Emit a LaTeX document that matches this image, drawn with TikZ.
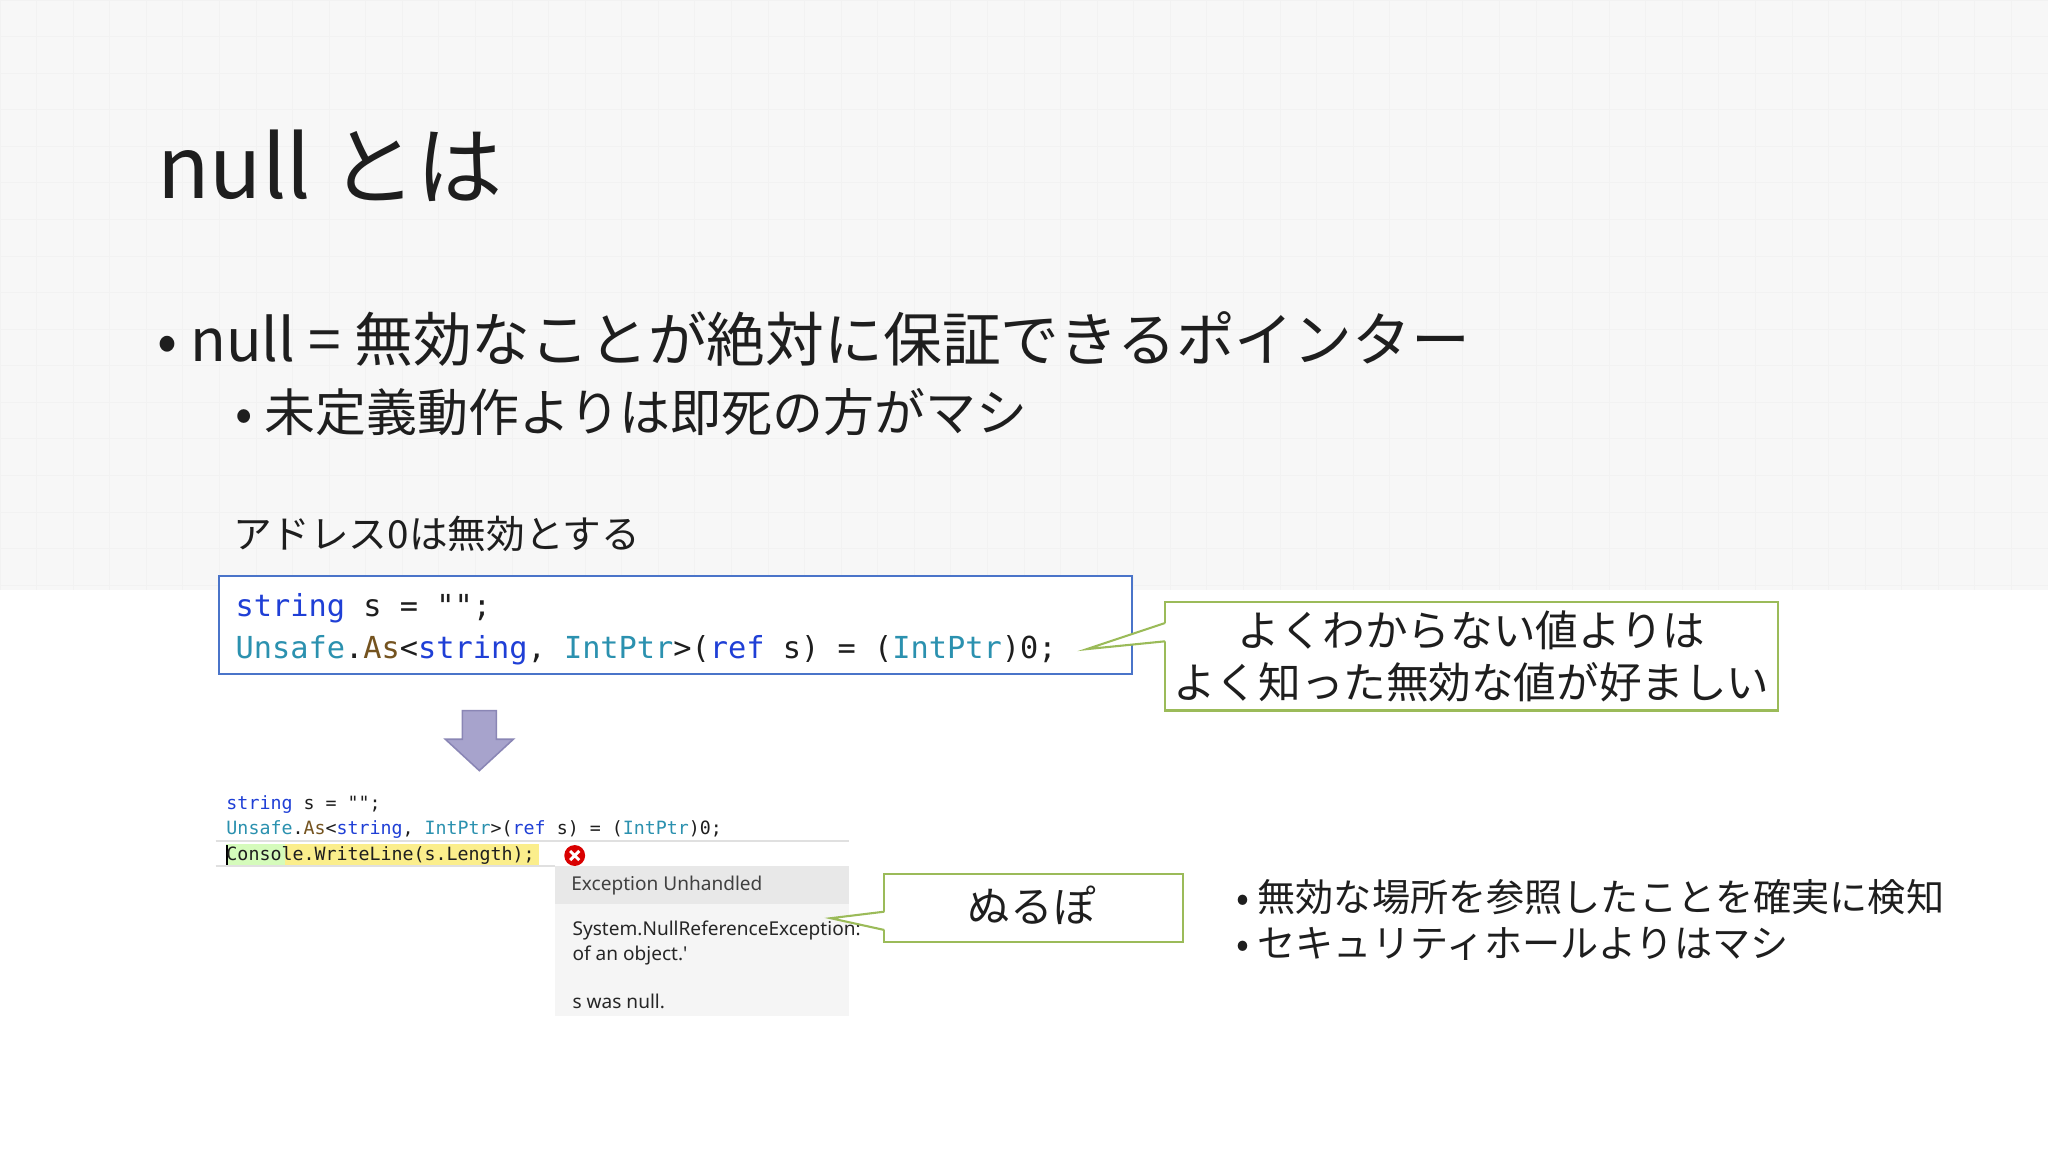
\documentclass[tikz,border=0pt]{standalone}
\usepackage{fontspec}
\usetikzlibrary{calc}
\setmainfont{Noto Sans CJK JP}
\newfontfamily\codefont{DejaVu Sans Mono}
\newfontfamily\uifont{Noto Sans}
\definecolor{kw}{HTML}{1F3FD6}
\definecolor{ty}{HTML}{2B91AF}
\definecolor{me}{HTML}{74531F}
\definecolor{txt}{HTML}{1E1E1E}
\definecolor{codebox}{HTML}{4A74C9}
\definecolor{callg}{HTML}{9BBB59}
\definecolor{arr}{HTML}{A7A3CC}
\definecolor{arrd}{HTML}{8A86B5}
\definecolor{hl}{HTML}{FBEE8C}
\tikzset{
  x=0.5pt,y=-0.5pt,
  txtnode/.style={inner sep=0pt,anchor=base west,text=txt},
  callbox/.style={draw=callg,line width=0.8pt,fill=white,minimum width=0,inner sep=0pt},
}
\newcommand{\kw}[1]{\textcolor{kw}{#1}}
\newcommand{\ty}[1]{\textcolor{ty}{#1}}
\newcommand{\me}[1]{\textcolor{me}{#1}}
\begin{document}
\begin{tikzpicture}
\useasboundingbox (0,0) rectangle (1568,882);
\fill[white] (0,0) rectangle (1568,882);
\fill[black!3] (0,0) rectangle (1568,452);
\foreach \i in {0,28,...,1568} \draw[black!5,line width=0.3pt] (\i,0) -- (\i,452);
\foreach \j in {0,28,...,448} \draw[black!5,line width=0.3pt] (0,\j) -- (1568,\j);

\node[txtnode,font=\fontsize{33}{40}\selectfont] (title) at (120,152) {null とは};
\node[txtnode,font=\fontsize{22.5}{27}\selectfont] (b1) at (120,277) {• null = 無効なことが絶対に保証できるポインター};
\node[txtnode,font=\fontsize{19.5}{24}\selectfont] (b2) at (180,330) {• 未定義動作よりは即死の方がマシ};
\node[txtnode,font=\fontsize{14.8}{18}\selectfont] (cap) at (178,420) {アドレス0は無効とする};

% code box
\draw[codebox,line width=0.8pt,fill=white] (168,441) rectangle (867,516);
\node[txtnode,font=\codefont\fontsize{11.6}{14}\selectfont] (c1) at (180,472) {\kw{string} s = "";};
\node[txtnode,font=\codefont\fontsize{11.6}{14}\selectfont] (c2) at (180,504) {\ty{Unsafe}.\me{As}<\kw{string}, \ty{IntPtr}>(\kw{ref} s) = (\ty{IntPtr})0;};

% callout 1
\node[callbox,minimum width=234.5pt,minimum height=41.5pt] (call1) at (1126.5,502.5) {};
\coordinate (t1) at (832,497);
\fill[white] (893,477) -- (t1) -- (893,491) -- cycle;
\draw[callg,line width=0.8pt] (892,477) -- (t1) -- (892,491);
\node[font=\fontsize{16.3}{20}\selectfont,text=txt,align=center,inner sep=0pt] (call1t) at (call1) {よくわからない値よりは\\よく知った無効な値が好ましい};

% down arrow
\draw[arrd,fill=arr,line width=0.6pt] (354,544) -- (380,544) -- (380,566) -- (393,566) -- (367,590) -- (341,566) -- (354,566) -- cycle;

% screenshot
\fill[hl] (218,646) rectangle (413,663);
\fill[hl!60!green!40!white] (173,646) rectangle (218,663);
\draw[black!12,line width=0.6pt] (165,644) -- (650,644);
\draw[black!12,line width=0.6pt] (165,663) -- (425,663);
\draw[black,line width=0.6pt] (174,647) -- (174,662);
\node[txtnode,font=\codefont\fontsize{7}{8}\selectfont] (s1) at (173,620) {\kw{string} s = "";};
\node[txtnode,font=\codefont\fontsize{7}{8}\selectfont] (s2) at (173,639) {\ty{Unsafe}.\me{As}<\kw{string}, \ty{IntPtr}>(\kw{ref} s) = (\ty{IntPtr})0;};
\node[txtnode,font=\codefont\fontsize{7}{8}\selectfont] (s3) at (173,659) {Console.WriteLine(s.Length);};
\node[circle,fill=red!85!black,minimum size=8pt,inner sep=0pt] (err) at (440,655) {};
\draw[white,line width=1.1pt] ($(err)+(-3.5,-3.5)$) -- ($(err)+(3.5,3.5)$) ($(err)+(-3.5,3.5)$) -- ($(err)+(3.5,-3.5)$);
\fill[black!4] (425,663) rectangle (650,778);
\fill[black!9] (425,663) rectangle (650,692);
\node[txtnode,font=\uifont\fontsize{7.3}{9}\selectfont,text=black!75] (p1) at (437,682) {Exception Unhandled};
\node[txtnode,font=\uifont\fontsize{7.3}{9}\selectfont,text=black!85] (p2) at (438,716) {System.NullReferenceException:};
\node[txtnode,font=\uifont\fontsize{7.3}{9}\selectfont,text=black!85] (p3) at (438,735) {of an object.'};
\node[txtnode,font=\uifont\fontsize{7.3}{9}\selectfont,text=black!85] (p4) at (438,772) {s was null.};

% callout 2
\node[callbox,minimum width=114.5pt,minimum height=26pt] (call2) at (791.5,695) {};
\coordinate (t2) at (636,703);
\fill[white] (678,698) -- (t2) -- (678,712) -- cycle;
\draw[callg,line width=0.8pt] (677,698) -- (t2) -- (677,712);
\node[font=\fontsize{16.3}{20}\selectfont,text=txt,inner sep=0pt] (call2t) at (790,693) {ぬるぽ};

\node[txtnode,font=\fontsize{14.6}{18}\selectfont] (r1) at (946,698) {• 無効な場所を参照したことを確実に検知};
\node[txtnode,font=\fontsize{14.6}{18}\selectfont] (r2) at (946,733) {• セキュリティホールよりはマシ};
\end{tikzpicture}
\end{document}
